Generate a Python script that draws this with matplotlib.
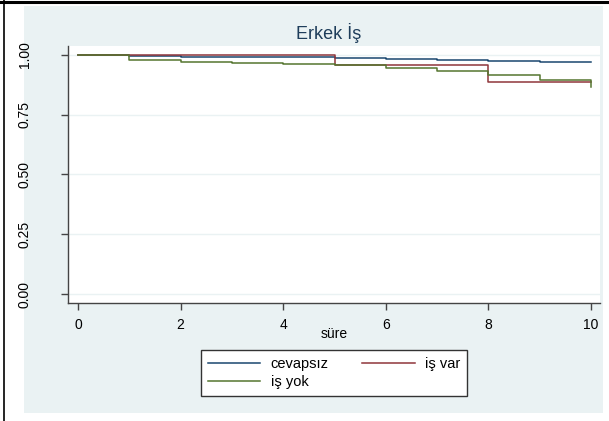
import matplotlib
matplotlib.use("Agg")
import matplotlib.pyplot as plt
from matplotlib.patches import Rectangle
from matplotlib.lines import Line2D

plt.rcParams['font.family'] = ['Liberation Sans', 'DejaVu Sans']

# survival estimates per year
times = [0, 1, 2, 3, 4, 5, 6, 7, 8, 9, 10]
cevapsiz = [1.0, 0.995, 0.992, 0.991, 0.989, 0.986, 0.983, 0.979, 0.976, 0.972, 0.970]
is_var = [1.0, 0.998, 0.998, 0.998, 0.998, 0.958, 0.958, 0.958, 0.886, 0.886, 0.886]
is_yok = [1.0, 0.980, 0.972, 0.965, 0.960, 0.956, 0.947, 0.932, 0.917, 0.895, 0.867]

series_names = ['cevapsız', 'iş var', 'iş yok']
colors = ['#1A476F', '#90353B', '#55752F']
yticks = [0, 0.25, 0.5, 0.75, 1.0]
xticks = [0, 2, 4, 6, 8, 10]

W, H = 609, 421
fig = plt.figure(figsize=(W / 100, H / 100), dpi=100)
fig.patch.set_facecolor('white')

# stata-like graph region
fig.patches.append(Rectangle((24 / W, 1 - 413 / H), (603 - 24) / W, (413 - 6) / H,
                             transform=fig.transFigure, facecolor='#EAF2F3',
                             edgecolor='none', zorder=-10))
fig.lines.append(Line2D([3.5 / W, 3.5 / W], [0, 1], transform=fig.transFigure,
                        color='black', lw=1.2, zorder=-5))
fig.lines.append(Line2D([0, 1], [1 - 1.5 / H, 1 - 1.5 / H], transform=fig.transFigure,
                        color='black', lw=2.2, zorder=-5))

ax = fig.add_axes([68 / W, 1 - 303 / H, (600 - 68) / W, (303 - 46) / H])
ax.set_facecolor('white')

lines = []
for vals, name, c in zip([cevapsiz, is_var, is_yok], series_names, colors):
    ln, = ax.step(times, vals, where='post', color=c, lw=1.1, label=name)
    lines.append(ln)

ax.set_xlim(-0.195, 10.175)
ax.set_ylim(-0.0375, 1.037)
ax.set_xticks(xticks)
ax.set_yticks(yticks)
ax.set_yticklabels([f'{v:.2f}' for v in yticks], rotation=90, va='center')
ax.grid(axis='y', color='#EAF2F3', lw=1.0)
ax.set_axisbelow(True)

for s in ['top', 'right']:
    ax.spines[s].set_visible(False)
for s in ['left', 'bottom']:
    ax.spines[s].set_color('#444444')
    ax.spines[s].set_linewidth(1.0)
ax.tick_params(axis='both', colors='#444444', labelcolor='black', length=5,
               width=1.0, labelsize=10)
ax.tick_params(axis='y', pad=21)
ax.tick_params(axis='x', pad=6)
ax.set_xlabel('süre', fontsize=10, labelpad=-4)

fig.text(329 / W, 1 - 33 / H, 'Erkek İş', ha='center', va='center',
         fontsize=13, color='#1E3D5A')

leg = fig.legend([lines[0], lines[2], lines[1]],
                 [series_names[0], series_names[2], series_names[1]],
                 ncol=2, loc='center', bbox_to_anchor=(334 / W, 1 - 373 / H),
                 frameon=True, fancybox=False, fontsize=10.5, handlelength=3.6,
                 columnspacing=2.3, handletextpad=0.7, labelspacing=0.3,
                 borderpad=0.45, framealpha=1)
leg.get_frame().set_edgecolor('#333333')
leg.get_frame().set_facecolor('white')
leg.get_frame().set_linewidth(1.0)

fig.savefig('out.png', dpi=100)
